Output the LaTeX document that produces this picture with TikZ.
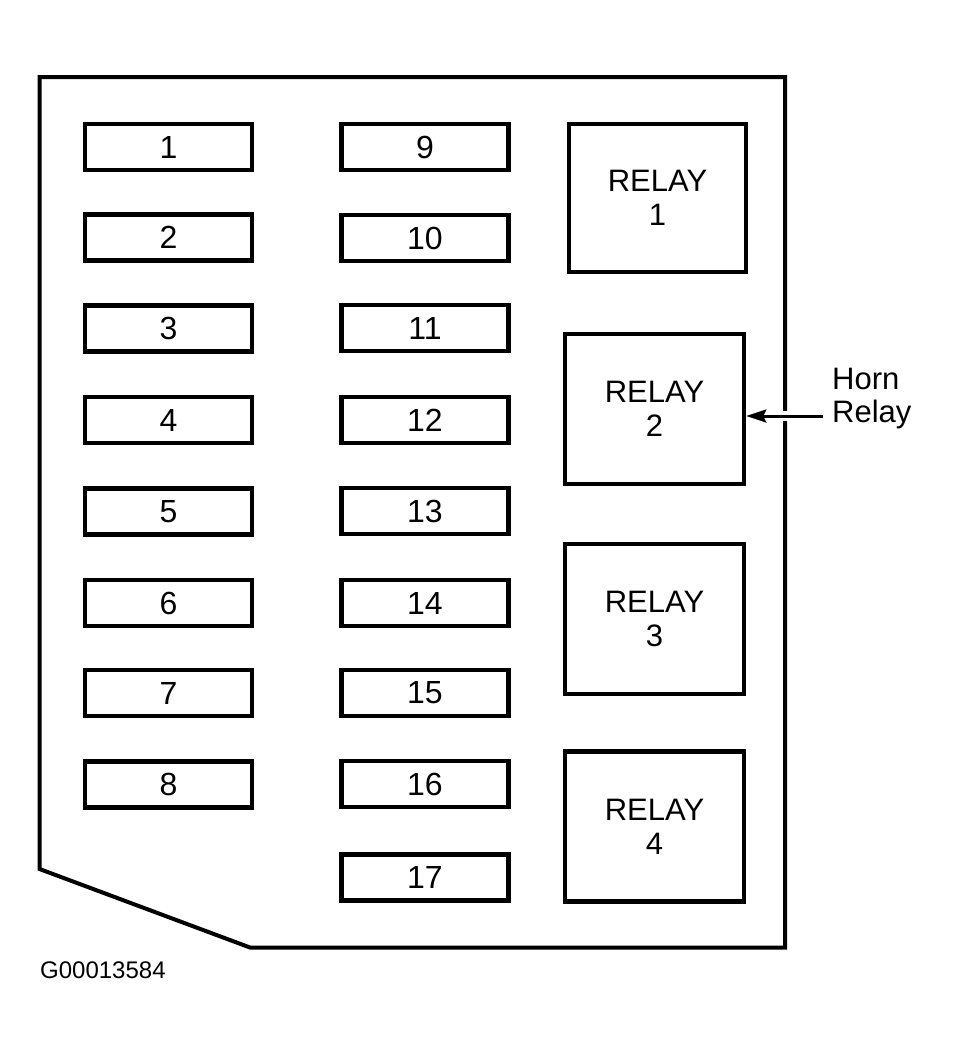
\documentclass[tikz,border=0pt]{standalone}
\usepackage{fontspec}
\setmainfont{Liberation Sans}
\usetikzlibrary{arrows.meta,calc}
\begin{document}
\begin{tikzpicture}[x=1pt,y=-1pt,
  fuse/.style={draw,line width=4.5pt,minimum width=167pt,minimum height=46pt,inner sep=0pt,font=\fontsize{32}{34}\selectfont},
  relay/.style={draw,line width=4.5pt,inner sep=0pt,align=center,font=\fontsize{31}{34}\selectfont},
  lbl/.style={inner sep=0pt,font=\fontsize{31}{33}\selectfont,align=left}]
\useasboundingbox (0,0) rectangle (953,1053);
% housing
\draw[line width=4pt,line join=miter] (39.5,77) -- (785,77) -- (785,947.5) -- (250,947.5) -- (39.5,869) -- cycle;
% left column fuses
\foreach \i/\y in {1/147,2/237.5,3/328.5,4/420,5/511.5,6/603,7/693,8/784.5}
  \node[fuse] (f\i) at (168.5,\y) {\i};
% middle column fuses
\foreach \i/\y in {9/147,10/238,11/328,12/420,13/511,14/603,15/693,16/784,17/877.5}
  \node[fuse] (f\i) at (425,\y) {\i};
% relays
\node[relay,minimum width=177pt,minimum height=148pt] (r1) at (657.5,198) {RELAY\\1};
\node[relay,minimum width=179pt,minimum height=150pt] (r2) at (654.5,409) {RELAY\\2};
\node[relay,minimum width=179pt,minimum height=150pt] (r3) at (654.5,619) {RELAY\\3};
\node[relay,minimum width=179pt,minimum height=150pt] (r4) at (654.5,826.5) {RELAY\\4};
% horn relay label
\node[lbl,anchor=north west] (horn) at (832,368) {Horn\\Relay};
\coordinate (hornpt) at (823,416);
\draw[white,line width=10pt] (hornpt) ++(-48,0) -- ++(20,0);
\draw[line width=3pt,-{Stealth[length=20pt,width=13pt,inset=3pt]}] (hornpt) -- (hornpt -| r2.east);
% figure id
\node[inner sep=0pt,anchor=base west,font=\fontsize{24}{26}\selectfont] (gid) at (40,978) {G00013584};
\end{tikzpicture}
\end{document}
